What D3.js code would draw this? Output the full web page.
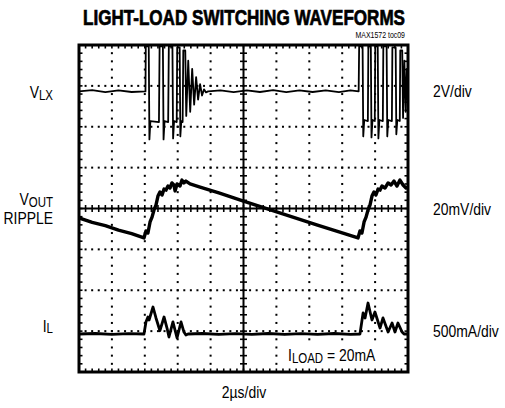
<!DOCTYPE html>
<html><head><meta charset="utf-8">
<script src="https://cdn.jsdelivr.net/npm/d3@7"></script>
<style>
body{margin:0;background:#fff;}
svg text{font-family:"Liberation Sans",Arial,sans-serif;fill:#000;}
</style></head><body>
<svg id="c" width="505" height="408"></svg>
<script>
// ---- data (time in µs, 2µs/div) ----
const titleText = "LIGHT-LOAD SWITCHING WAVEFORMS";
const tocText = "MAX1572 toc09";
const xGridUs = [0,2,4,6,8,10,12,14,16,18,20];
const yGridDiv = [-4,-3,-2,-1,0,1,2,3,4];
const channelNames = ["VLX","VOUT","IL"];
const scaleLabels = ["2V/div","20mV/div","500mA/div"];
const voltsPerDiv = [2, 20, 500];       // V, mV, mA per division
const zeroDiv = [2.115, 0, -3.07];      // trace zero level, in divisions from centre

// VLX (V)
const vlx = [[0,1.5],[0.8,1.56],[1.6,1.46],[2.4,1.55],[3.2,1.47],[4.04,1.5],
 [4.06,3.7],[4.24,3.7],[4.28,-0.85],[4.34,0.05],[4.86,0.0],
 [4.9,3.7],[5.1,3.7],[5.14,-0.85],[5.2,0.05],[5.42,0.0],
 [5.46,3.7],[5.68,3.7],[5.72,-0.8],[5.78,0.05],[5.94,0.0],
 [5.97,3.65],[6.12,3.65],[6.16,-0.7],[6.22,0.05],[6.3,0.0],
 [6.34,3.5],[6.46,3.5],[6.52,0.3],[6.64,3.0],[6.76,0.5],[6.88,2.6],[7.0,0.85],[7.12,2.2],[7.24,1.1],[7.36,1.85],[7.48,1.3],[7.6,1.6],[7.72,1.45],[7.85,1.5],
 [8.6,1.55],[9.4,1.46],[10.2,1.55],[11.0,1.47],[11.8,1.56],[12.6,1.46],[13.4,1.55],[14.2,1.47],[15.0,1.55],[15.8,1.46],[16.5,1.55],[17.0,1.5],
 [17.03,3.7],[17.24,3.7],[17.28,-0.7],[17.34,0.1],[17.56,0.05],
 [17.59,3.7],[17.74,3.7],[17.78,-0.75],[17.84,0.1],[17.98,0.05],
 [18.01,3.7],[18.16,3.7],[18.2,-0.8],[18.26,0.1],[18.47,0.05],
 [18.5,3.7],[18.7,3.7],[18.74,-0.7],[18.8,0.1],[19.02,0.05],
 [19.05,3.65],[19.25,3.65],[19.29,-0.6],[19.35,0.1],[19.5,0.05],
 [19.53,3.5],[19.65,3.5],[19.7,0.2],[19.78,3.0],[19.86,0.5],[19.93,2.6],[20,0.9]];

// VOUT ripple (mV)
const vout = [[0,-4.6],[0.8,-6.8],[1.6,-8.4],[2.4,-10.6],[3.2,-12.3],[3.95,-14.4],
 [4.07,-11.0],[4.19,-12.0],[4.32,-6.6],[4.44,-4.2],[4.56,-0.7],[4.68,1.7],[4.8,6.1],[4.92,8.1],
 [5.05,6.6],[5.17,9.5],[5.29,9.0],[5.41,11.0],[5.53,10.0],[5.65,12.5],[5.77,11.5],[5.84,8.6],
 [5.96,12.0],[6.14,11.0],[6.26,13.9],[6.38,12.5],[6.5,13.4],[6.75,12.0],[7.36,10.5],
 [8.5,7.6],[10.0,3.6],[11.5,-0.3],[13.0,-4.2],[14.5,-8.1],[16.0,-11.9],[16.96,-14.4],
 [17.08,-11.0],[17.2,-12.0],[17.33,-6.6],[17.45,-4.2],[17.57,-0.7],[17.69,1.7],[17.81,6.1],[17.93,8.1],
 [18.05,6.6],[18.18,9.5],[18.3,9.0],[18.42,11.0],[18.6,10.0],[18.79,12.5],[18.97,11.5],[19.15,13.4],
 [19.33,11.0],[19.51,13.9],[19.7,11.5],[19.88,10.0],[20,10.5]];

// IL (mA)
const il = [[0,0],[1,6],[2,-6],[3,5],[3.95,0],
 [4.07,147],[4.19,208],[4.26,171],[4.5,330],[4.68,196],[4.92,40],[5.17,208],[5.35,73],[5.47,-37],
 [5.71,147],[5.96,-49],[6.2,147],[6.38,24],[6.5,-12],[6.63,0],
 [7.5,6],[8.5,-6],[9.5,5],[10.5,-5],[11.5,6],[12.5,-6],[13.5,5],[14.5,-5],[15.5,6],[16.5,-5],[17.08,0],
 [17.27,257],[17.39,196],[17.57,379],[17.81,171],[17.99,269],[18.3,73],[18.48,196],[18.79,24],
 [19.03,134],[19.21,24],[19.39,134],[19.64,24],[19.76,0],[20,0]];

const traces = [vlx, vout, il];

// ---- layout ----
const svg = d3.select("#c");
const L=79, R=408, T=45, B=372;
const NARROW = 0.82;
const x = d3.scaleLinear([0,20],[L,R]);
const yDiv = d3.scaleLinear([-4,4],[B,T]);
const chScales = voltsPerDiv.map((vpd,i)=>d3.scaleLinear([(-4-zeroDiv[i])*vpd,(4-zeroDiv[i])*vpd],[B,T]));

const ntext = (x0,y0,size,anchor)=> svg.append("text")
  .attr("transform",`translate(${x0},${y0}) scale(${NARROW},1)`)
  .attr("text-anchor",anchor).attr("font-size",size);

// title
svg.append("text").attr("x",244).attr("y",25).attr("text-anchor","middle")
  .attr("font-size",21.5).attr("font-weight",700).attr("textLength",322).attr("lengthAdjust","spacingAndGlyphs")
  .attr("stroke","#000").attr("stroke-width",0.7)
  .text(titleText);
ntext(405,38,8.5,"end").text(tocText);

// grid dots
const g = svg.append("g");
const minorX = d3.range(0,51).map(i=>i*0.4);
const minorY = d3.range(0,41).map(i=>-4+i*0.2);
xGridUs.slice(1,-1).forEach(t=>{
  if(t===10) return;
  minorY.forEach(d=>g.append("rect").attr("x",x(t)-1).attr("y",yDiv(d)-1).attr("width",2).attr("height",2));
});
yGridDiv.slice(1,-1).forEach(d=>{
  if(d===0) return;
  minorX.forEach(t=>g.append("rect").attr("x",x(t)-1).attr("y",yDiv(d)-1).attr("width",2).attr("height",2));
});
// centre axes
g.append("line").attr("x1",x(10)).attr("x2",x(10)).attr("y1",T).attr("y2",B).attr("stroke","#000").attr("stroke-width",2);
g.append("line").attr("x1",L).attr("x2",R).attr("y1",yDiv(0)).attr("y2",yDiv(0)).attr("stroke","#000").attr("stroke-width",2);
minorY.forEach(d=>g.append("line").attr("x1",x(10)-3.5).attr("x2",x(10)+3.5).attr("y1",yDiv(d)).attr("y2",yDiv(d)).attr("stroke","#000").attr("stroke-width",1.6));
minorX.forEach(t=>g.append("line").attr("x1",x(t)).attr("x2",x(t)).attr("y1",yDiv(0)-3.5).attr("y2",yDiv(0)+3.5).attr("stroke","#000").attr("stroke-width",1.6));
// edge ticks
minorX.forEach(t=>{
  g.append("line").attr("x1",x(t)).attr("x2",x(t)).attr("y1",T).attr("y2",T+3.5).attr("stroke","#000").attr("stroke-width",1.6);
  g.append("line").attr("x1",x(t)).attr("x2",x(t)).attr("y1",B).attr("y2",B-3.5).attr("stroke","#000").attr("stroke-width",1.6);
});
minorY.forEach(d=>{
  g.append("line").attr("x1",L).attr("x2",L+3.5).attr("y1",yDiv(d)).attr("y2",yDiv(d)).attr("stroke","#000").attr("stroke-width",1.6);
  g.append("line").attr("x1",R).attr("x2",R-3.5).attr("y1",yDiv(d)).attr("y2",yDiv(d)).attr("stroke","#000").attr("stroke-width",1.6);
});

// traces
svg.append("clipPath").attr("id","clip").append("rect").attr("x",L).attr("y",T).attr("width",R-L).attr("height",B-T);
const widths=[1.8,3.4,2.8];
traces.forEach((tr,i)=>{
  const line = d3.line().x(d=>x(d[0])).y(d=>chScales[i](d[1]));
  svg.append("path").attr("d",line(tr)).attr("fill","none").attr("stroke","#000")
    .attr("stroke-width",widths[i]).attr("stroke-linejoin","round").attr("clip-path","url(#clip)");
});

// frame
svg.append("rect").attr("x",L).attr("y",T).attr("width",R-L).attr("height",B-T)
  .attr("fill","none").attr("stroke","#000").attr("stroke-width",3);

// left labels
const lab = (x0,y0,main,sub,anchor)=>{
  const t = ntext(x0,y0,17,anchor);
  t.append("tspan").text(main);
  if(sub) t.append("tspan").attr("font-size",14).attr("dy",1.5).text(sub);
  return t;
};
lab(53,98,"V","LX","end");
lab(53,205,"V","OUT","end");
ntext(53,224,17,"end").text("RIPPLE");
lab(53,331.5,"I","L","end");

// right labels
const rightY=[97,215,337];
scaleLabels.forEach((s,i)=>ntext(433,rightY[i],17,"start").text(s));

// load label with white backing (hides grid dots behind it)
svg.append("rect").attr("x",283).attr("y",343).attr("width",113).attr("height",24).attr("fill","#fff");
const ld = ntext(288,361,17,"start");
ld.append("tspan").text("I");
ld.append("tspan").attr("font-size",14).attr("dy",1.5).text("LOAD");
ld.append("tspan").attr("dy",-1.5).text(" = 20mA");

ntext(244,398,17,"middle").text("2µs/div");
</script>
</body></html>
